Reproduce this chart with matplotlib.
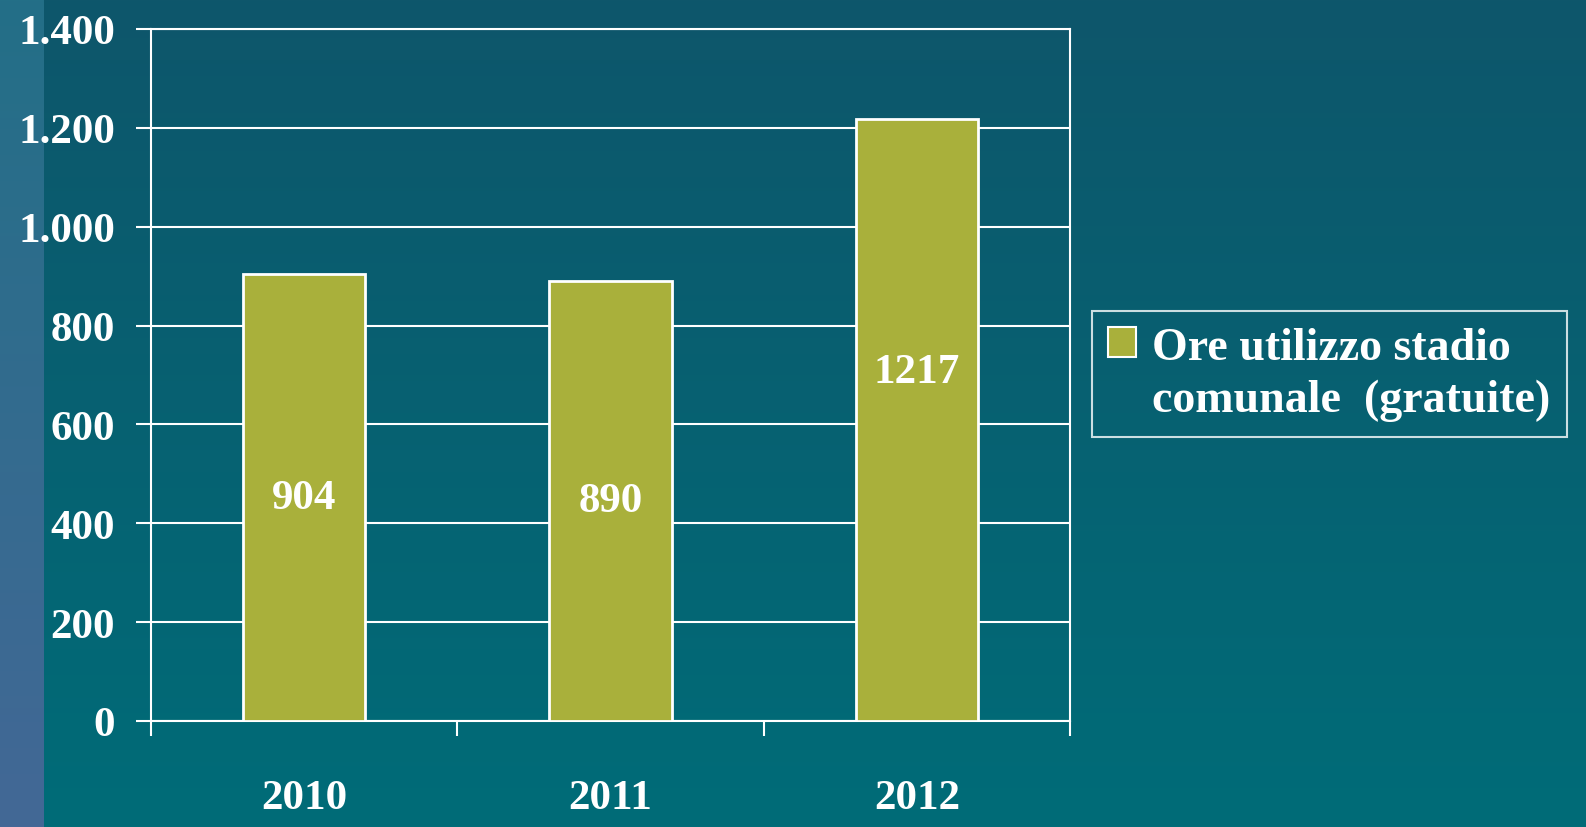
"""
Ore di utilizzo dello stadio comunale (gratuite), 2010-2012.
"""
import matplotlib
matplotlib.use('Agg')

import numpy as np
import matplotlib.pyplot as plt
from matplotlib.patches import Patch
from matplotlib.ticker import FuncFormatter

anni = ['2010', '2011', '2012']
ore = [904, 890, 1217]
serie = 'Ore utilizzo stadio\ncomunale  (gratuite)'
y_ticks = [0, 200, 400, 600, 800, 1000, 1200, 1400]

plt.rcParams['font.family'] = ['Liberation Serif', 'DejaVu Serif']
plt.rcParams['font.weight'] = 'bold'

W, H = 1586, 828
fig = plt.figure(figsize=(W / 100, H / 100), dpi=100)

# Sfondo a gradiente (stile diapositiva)
bg = fig.add_axes([0, 0, 1, 1], zorder=-10)
bg.set_axis_off()
t = np.linspace(0, 1, 256)[:, None]
top_main = np.array([0x0e, 0x56, 0x6b]) / 255
bot_main = np.array([0x00, 0x6c, 0x78]) / 255
top_side = np.array([0x23, 0x6f, 0x87]) / 255
bot_side = np.array([0x43, 0x68, 0x96]) / 255
img = np.zeros((256, W, 3))
main = top_main + (bot_main - top_main) * t
side = top_side + (bot_side - top_side) * t
img[:, :, :] = main[:, None, :]
img[:, :44, :] = side[:, None, :]
bg.imshow(img, aspect='auto', extent=[0, 1, 0, 1], interpolation='bilinear')
bg.set_xlim(0, 1)
bg.set_ylim(0, 1)

ax = fig.add_axes([151 / W, 1 - 722 / H, (1070 - 151) / W, (722 - 30) / H])
ax.set_facecolor('none')

x = np.arange(len(anni))
bar_color = '#a9b03b'
ax.bar(x, ore, width=0.4, color=bar_color, edgecolor='white', linewidth=2, zorder=3)

# etichette dei valori dentro le barre
label_frac = [0.5, 0.5, 0.58]
for xi, v, f in zip(x, ore, label_frac):
    ax.text(xi, v * f, str(v), ha='center', va='center', color='white',
            fontsize=31, fontweight='bold', zorder=4)

ax.set_xlim(-0.5, len(anni) - 0.5)
ax.set_ylim(0, 1400)
ax.set_yticks(y_ticks)
ax.yaxis.set_major_formatter(FuncFormatter(lambda v, p: f'{int(v):,}'.replace(',', '.')))
ax.yaxis.grid(True, color='white', linewidth=1.5, zorder=0)
ax.set_axisbelow(True)

ax.set_xticks(np.arange(-0.5, len(anni)), labels=[''] * (len(anni) + 1))
ax.set_xticks(x, labels=anni, minor=True)
ax.tick_params(axis='x', which='major', length=11, width=1.5, color='white', direction='out')
ax.tick_params(axis='x', which='minor', length=0, pad=42, labelsize=31, labelcolor='white')
ax.tick_params(axis='y', length=11, width=1.5, color='white', direction='out',
               pad=15, labelsize=31, labelcolor='white')

for s in ax.spines.values():
    s.set_color('white')
    s.set_linewidth(1.5)

handle = Patch(facecolor=bar_color, edgecolor='white', linewidth=1.5)
leg = fig.legend([handle], [serie], loc='upper left',
                 bbox_to_anchor=(1092 / W, 1 - 312 / H), frameon=True, fancybox=False,
                 fontsize=33, labelcolor='white', handlelength=0.62, handleheight=0.62,
                 handletextpad=0.35, borderpad=0.35, borderaxespad=0)
leg.get_frame().set_facecolor('none')
leg.get_frame().set_edgecolor('white')
leg.get_frame().set_linewidth(1.5)
leg.get_texts()[0].set_linespacing(1.3)
# quadratino allineato alla prima riga
for col in leg._legend_handle_box.get_children():
    for row in col.get_children():
        row.align = 'top'

fig.savefig('out.png', dpi=100)
plt.close(fig)
